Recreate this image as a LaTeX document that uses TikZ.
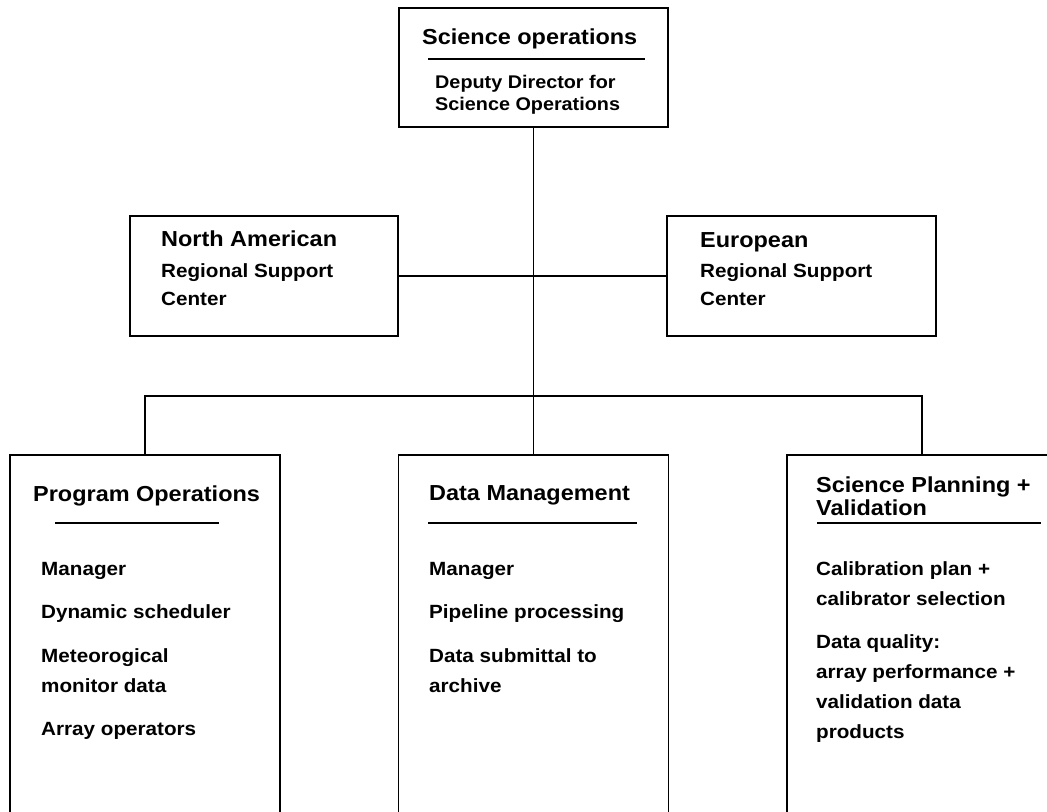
\documentclass[tikz,border=0pt]{standalone}
\usepackage{fontspec}
\newfontfamily\hvb{Liberation Sans Bold}[FakeStretch=1.08]
\begin{document}
\begin{tikzpicture}[x=1bp,y=-1bp,
  box/.style={draw, line width=1.9bp, inner sep=0, minimum width=#1},
  conn/.style={draw, line width=1.7bp},
  ul/.style={draw, line width=1.6bp},
  ttl/.style={anchor=base west, inner sep=0, font=\hvb\fontsize{21.8}{24}\selectfont},
  txt/.style={anchor=base west, inner sep=0, font=\hvb\fontsize{19.2}{22}\selectfont},
  txts/.style={anchor=base west, inner sep=0, font=\hvb\fontsize{18.4}{21}\selectfont}
]
\useasboundingbox (0,0) rectangle (1047,812);
% boxes
\node[box=269bp, minimum height=119bp] (top) at (533.5,67.5) {};
\node[box=268bp, minimum height=120bp] (na) at (264,276) {};
\node[box=269bp, minimum height=120bp] (eu) at (801.5,276) {};
\node[box=270bp, minimum height=380bp] (po) at (145,645) {};
\node[box=270bp, minimum height=380bp] (dm) at (533.5,645) {};
\node[box=270bp, minimum height=380bp] (sp) at (922,645) {};
% connectors
\draw[conn] (top.south) -- (dm.north);
\draw[conn] (na.east) -- (eu.west);
\draw[conn] (po.north) -- ++(0,-58) coordinate (bus) -| (sp.north);
% top box text
\node[ttl] (t1) at (422,45) {Science operations};
\draw[ul] (428,59) -- (645,59);
\node[txts] (t2) at (435,89) {Deputy Director for};
\node[txts] (t3) at (435,110) {Science Operations};
% North American
\node[ttl] (n1) at (161,246) {North American};
\node[txt] (n2) at (161,277) {Regional Support};
\node[txt] (n3) at (161,305) {Center};
% European
\node[ttl] (e1) at (700,247) {European};
\node[txt] (e2) at (700,277) {Regional Support};
\node[txt] (e3) at (700,305) {Center};
% Program Operations
\node[ttl] (p0) at (33,501) {Program Operations};
\draw[ul] (55,523) -- (219,523);
\node[txt] (p1) at (41,575) {Manager};
\node[txt] (p2) at (41,618.5) {Dynamic scheduler};
\node[txt] (p3) at (41,662) {Meteorogical};
\node[txt] (p4) at (41,692) {monitor data};
\node[txt] (p5) at (41,735.5) {Array operators};
% Data Management
\node[ttl] (d0) at (429,500) {Data Management};
\draw[ul] (428,523) -- (637,523);
\node[txt] (d1) at (429,575) {Manager};
\node[txt] (d2) at (429,618.5) {Pipeline processing};
\node[txt] (d3) at (429,662) {Data submittal to};
\node[txt] (d4) at (429,692) {archive};
% Science Planning + Validation
\node[ttl] (s0) at (816,492) {Science Planning +};
\node[ttl] (s0b) at (816,515) {Validation};
\draw[ul] (817,523) -- (1041,523);
\node[txt] (s1) at (816,575) {Calibration plan +};
\node[txt] (s2) at (816,605) {calibrator selection};
\node[txt] (s3) at (816,648.5) {Data quality:};
\node[txt] (s4) at (816,678.5) {array performance +};
\node[txt] (s5) at (816,708.5) {validation data};
\node[txt] (s6) at (816,738.5) {products};
\end{tikzpicture}
\end{document}
